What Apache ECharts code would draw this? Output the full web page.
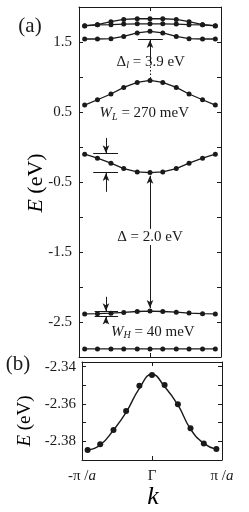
<!DOCTYPE html>
<html><head><meta charset="utf-8">
<script src="https://cdn.jsdelivr.net/npm/echarts@6/dist/echarts.min.js"></script>
<style>html,body{margin:0;padding:0;background:#fff}#c{width:249px;height:512px}</style>
</head><body><div id="c"></div>
<script>
// k in units of pi/a
const kPoints = [-0.92, -0.74, -0.55, -0.37, -0.18, 0, 0.18, 0.37, 0.55, 0.74, 0.92];
// panel (a) bands, E in eV
const band1 = [-2.885, -2.885, -2.885, -2.885, -2.885, -2.885, -2.885, -2.885, -2.885, -2.885, -2.885];
const band2 = [-2.3847, -2.3816, -2.3739, -2.3638, -2.3502, -2.3445, -2.3498, -2.3602, -2.3730, -2.3811, -2.3841];
const band3 = [-0.102, -0.159, -0.231, -0.308, -0.356, -0.366, -0.356, -0.308, -0.231, -0.159, -0.102];
const band4 = [0.599, 0.675, 0.757, 0.851, 0.922, 0.951, 0.922, 0.851, 0.757, 0.675, 0.599];
const band5 = [1.543, 1.543, 1.547, 1.580, 1.629, 1.652, 1.629, 1.580, 1.547, 1.543, 1.543];
const band6 = [1.730, 1.745, 1.747, 1.756, 1.760, 1.760, 1.760, 1.756, 1.747, 1.745, 1.730];
const band7 = [1.733, 1.747, 1.790, 1.822, 1.832, 1.832, 1.832, 1.822, 1.790, 1.747, 1.733];
// panel (b): calculated points and fitted curve
const pointsB = [-2.3847, -2.3816, -2.3739, -2.3638, -2.3502, -2.3445, -2.3498, -2.3602, -2.3730, -2.3811, -2.3841];
const fitB = [-2.3847, -2.3820, -2.3739, -2.3645, -2.3516, -2.3441, -2.3507, -2.3605, -2.3734, -2.3811, -2.3843];
// tick labels
const yTickLabelsA = ['1.5', '0.5', '-0.5', '-1.5', '-2.5'];
const yTickLabelsB = ['-2.34', '-2.36', '-2.38'];
const kTickValues = [-1, 0, 1];
const kTickLabels = ['{n|-π /}{i|a}', '{n|Γ}', '{n|π /}{i|a}'];

const F = '"Liberation Serif","Times New Roman",serif';
const INK = '#1a1a1a';
const chart = echarts.init(document.getElementById('c'));

function pairs(ys) { return kPoints.map((k, i) => [k, ys[i]]); }

function yAx(grid, pos, min, max, interval, labels, digits, margin) {
  return {
    type: 'value', gridIndex: grid, position: pos, min: min, max: max, interval: interval,
    axisLine: { show: true, onZero: false, lineStyle: { color: INK, width: 1 } },
    axisTick: { show: true, inside: true, length: 4, lineStyle: { color: INK, width: 1 } },
    splitLine: { show: false },
    axisLabel: {
      show: !!labels, margin: margin, fontFamily: F, fontSize: 15, color: INK,
      formatter: function (v) {
        if (!labels) return '';
        const s = v.toFixed(digits);
        return labels.indexOf(s) >= 0 ? s : '';
      }
    }
  };
}
function xAx(grid, pos, showLabels) {
  return {
    type: 'value', gridIndex: grid, position: pos, min: -1, max: 1, interval: 1,
    axisLine: { show: true, onZero: false, lineStyle: { color: INK, width: 1 } },
    axisTick: { show: true, inside: true, length: 4, lineStyle: { color: INK, width: 1 } },
    splitLine: { show: false },
    axisLabel: {
      show: showLabels, margin: 9, fontFamily: F, fontSize: 15, color: INK,
      formatter: function (v) {
        const i = kTickValues.findIndex(t => Math.abs(t - v) < 1e-6);
        return i >= 0 ? kTickLabels[i] : '';
      },
      rich: {
        n: { fontFamily: F, fontSize: 15, color: INK },
        i: { fontFamily: F, fontSize: 15, fontStyle: 'italic', color: INK }
      }
    }
  };
}

// annotation segments in data coordinates: [k1, E1, k2, E2, arrowAtEnd, dotted]
const annot = [
  // Delta_l
  [-0.17, 1.533, 0.18, 1.533, false, false],
  [0, 1.30, 0, 1.530, true, false],
  [0, 1.30, 0, 1.20, false, false],
  [0, 1.15, 0, 0.975, false, true],
  // W_L
  [-0.80, -0.095, -0.45, -0.095, false, false],
  [-0.80, -0.365, -0.45, -0.365, false, false],
  [-0.62, 0.13, -0.62, -0.09, true, false],
  [-0.62, -0.64, -0.62, -0.37, true, false],
  // Delta
  [0, -1.17, 0, -0.41, true, false],
  [0, -1.40, 0, -2.30, true, false],
  // W_H
  [-0.78, -2.352, -0.45, -2.352, false, false],
  [-0.78, -2.414, -0.45, -2.414, false, false],
  [-0.62, -2.14, -0.62, -2.345, true, false],
  [-0.62, -2.52, -0.62, -2.42, true, false]
];
const markData = annot.map(a => [
  { coord: [a[0], a[1]], symbol: 'none' },
  { coord: [a[2], a[3]], symbol: a[4] ? 'arrow' : 'none', symbolSize: [5, 8],
    lineStyle: { type: a[5] ? [1.5, 2] : 'solid', color: INK, width: 1 } }
]);

function bandSeries(ys, extra) {
  return Object.assign({
    type: 'line', xAxisIndex: 0, yAxisIndex: 0, data: pairs(ys),
    symbol: 'circle', symbolSize: 5, showSymbol: true,
    itemStyle: { color: INK, opacity: 1 }, lineStyle: { color: INK, width: 1.3 }, z: 3
  }, extra || {});
}

chart.setOption({
  animation: false,
  backgroundColor: '#fff',
  grid: [
    { left: 79, top: 7, width: 142, height: 350 },
    { left: 82, top: 362, width: 140, height: 98 }
  ],
  xAxis: [xAx(0, 'bottom', false), xAx(0, 'top', false), xAx(1, 'bottom', true), xAx(1, 'top', false)],
  yAxis: [
    yAx(0, 'left', -3, 2, 0.5, yTickLabelsA, 1, 7),
    yAx(0, 'right', -3, 2, 0.5, null, 1, 7),
    yAx(1, 'left', -2.39, -2.3375, 0.01, yTickLabelsB, 2, 6),
    yAx(1, 'right', -2.39, -2.3375, 0.01, null, 2, 6)
  ],
  series: [
    bandSeries(band1, {
      markLine: { silent: true, animation: false, label: { show: false }, symbol: ['none', 'none'],
        lineStyle: { color: INK, width: 1, type: 'solid' }, emphasis: { disabled: true }, data: markData }
    }),
    bandSeries(band2), bandSeries(band3), bandSeries(band4),
    bandSeries(band5), bandSeries(band6), bandSeries(band7),
    { type: 'line', xAxisIndex: 2, yAxisIndex: 2, data: pairs(fitB), smooth: 0.5, showSymbol: false,
      lineStyle: { color: INK, width: 1.4 }, z: 2 },
    { type: 'scatter', xAxisIndex: 2, yAxisIndex: 2, data: pairs(pointsB), symbol: 'circle', symbolSize: 6,
      itemStyle: { color: INK, opacity: 1 }, z: 3 }
  ]
});

function px(k, e) { return chart.convertToPixel({ gridIndex: 0 }, [k, e]); }
const base = { fontFamily: F, fontSize: 15, color: INK };
const rich = {
  t: Object.assign({}, base, { lineHeight: 18 }),
  w: Object.assign({}, base, { fontStyle: 'italic', lineHeight: 18 }),
  s: Object.assign({}, base, { fontSize: 10, fontStyle: 'italic', lineHeight: 7, verticalAlign: 'bottom' })
};
function annText(k, e, text) {
  const p = px(k, e);
  return { type: 'text', x: p[0], y: p[1], z: 10,
    style: { text: text, rich: rich, align: 'center', verticalAlign: 'middle', fill: INK } };
}
const labRich = {
  i: { fontFamily: F, fontSize: 22, fontStyle: 'italic', color: INK },
  n: { fontFamily: F, fontSize: 22, color: INK },
  ib: { fontFamily: F, fontSize: 19, fontStyle: 'italic', color: INK },
  nb: { fontFamily: F, fontSize: 19, color: INK },
  k: { fontFamily: F, fontSize: 26, fontStyle: 'italic', color: INK }
};
chart.setOption({
  graphic: [
    annText(0.01, 1.22, '{t|Δ}{s|l}{t| = 3.9 eV}'),
    annText(-0.08, 0.48, '{w|W}{s|L}{t| = 270 meV}'),
    annText(0, -1.285, '{t|Δ = 2.0 eV}'),
    annText(0.04, -2.64, '{w|W}{s|H}{t| = 40 meV}'),
    { type: 'text', x: 30, y: 26, style: { text: '(a)', font: '21px ' + F, fill: INK, align: 'center', verticalAlign: 'middle' } },
    { type: 'text', x: 18, y: 364, style: { text: '(b)', font: '21px ' + F, fill: INK, align: 'center', verticalAlign: 'middle' } },
    { type: 'text', x: 36, y: 183, rotation: Math.PI / 2,
      style: { text: '{i|E}{n| (eV)}', rich: labRich, align: 'center', verticalAlign: 'middle' } },
    { type: 'text', x: 25, y: 421, rotation: Math.PI / 2,
      style: { text: '{ib|E}{nb| (eV)}', rich: labRich, align: 'center', verticalAlign: 'middle' } },
    { type: 'text', x: 153, y: 497,
      style: { text: '{k|k}', rich: labRich, align: 'center', verticalAlign: 'middle' } }
  ]
});
</script>
</body></html>
